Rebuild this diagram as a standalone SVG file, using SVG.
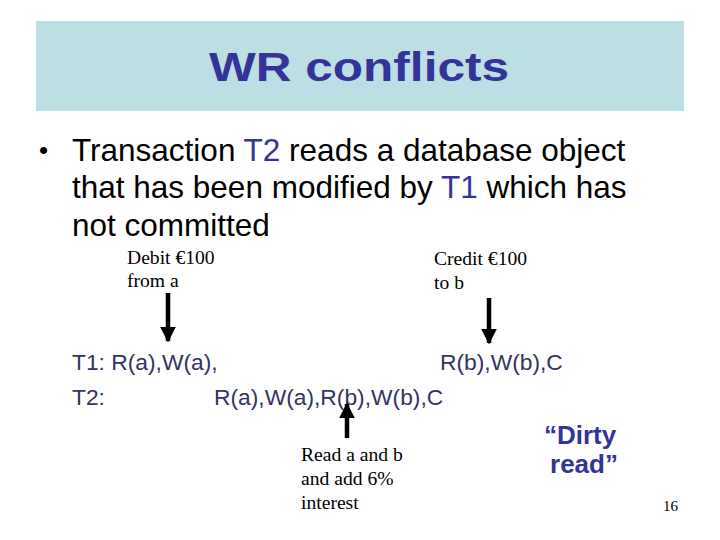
<svg xmlns="http://www.w3.org/2000/svg" width="720" height="540" viewBox="0 0 720 540">
<defs>
<marker id="ah" viewBox="0 0 10 10" refX="9" refY="5" markerWidth="3.5" markerHeight="3.8" orient="auto" markerUnits="strokeWidth"><path d="M0,0 L10,5 L0,10 Z" fill="#000"/></marker>
<style>
.title{font-family:"Liberation Sans",Arial,sans-serif;font-weight:bold;font-size:40px;fill:#333399}
.body{font-family:"Liberation Sans",Arial,sans-serif;font-size:31.5px;fill:#000}
.blue{fill:#333399}
.tx{font-family:"Liberation Sans",Arial,sans-serif;font-size:22.8px;fill:#333366}
.note{font-family:"Liberation Serif","Times New Roman",serif;font-size:19.6px;fill:#000}
.dirty{font-family:"Liberation Sans",Arial,sans-serif;font-weight:bold;font-size:26px;fill:#333399}
.arr{stroke:#000;stroke-width:4.5;fill:none}
</style>
</defs>
<rect width="720" height="540" fill="#fff"/>
<g id="title">
<rect x="36" y="21" width="648" height="90" fill="#BBDFE3"/>
<text class="title" x="359" y="81" text-anchor="middle" textLength="300" lengthAdjust="spacingAndGlyphs">WR conflicts</text>
</g>
<g id="bullet">
<text class="body" x="39" y="159" style="font-size:26px">•</text>
<text class="body" x="72" y="161">Transaction <tspan class="blue">T2</tspan> reads a database object</text>
<text class="body" x="72" y="198">that has been modified by <tspan class="blue">T1</tspan> which has</text>
<text class="body" x="72" y="236">not committed</text>
</g>
<g id="debit">
<text class="note" x="127" y="264">Debit €100</text>
<text class="note" x="127" y="287">from a</text>
</g>
<g id="credit">
<text class="note" x="434" y="265">Credit €100</text>
<text class="note" x="434" y="289">to b</text>
</g>
<g id="t1">
<text class="tx" x="72" y="370">T1: R(a),W(a),</text>
<text class="tx" x="440" y="370">R(b),W(b),C</text>
</g>
<g id="t2">
<text class="tx" x="72" y="405">T2:</text>
<text class="tx" x="214" y="405">R(a),W(a),R(b),W(b),C</text>
</g>
<g id="read-note">
<text class="note" x="301" y="461">Read a and b</text>
<text class="note" x="301" y="485">and add 6%</text>
<text class="note" x="301" y="509">interest</text>
</g>
<g id="dirty">
<text class="dirty" x="580" y="444" text-anchor="middle">“Dirty</text>
<text class="dirty" x="584" y="473" text-anchor="middle">read”</text>
</g>
<g id="page">
<text x="663" y="511" style="font-family:'Liberation Serif','Times New Roman',serif;font-size:15px;fill:#000">16</text>
</g>
<g id="connectors">
<line class="arr" x1="168" y1="293" x2="168" y2="341" marker-end="url(#ah)"/>
<line class="arr" x1="489" y1="298" x2="489" y2="343" marker-end="url(#ah)"/>
<line class="arr" x1="347" y1="438" x2="347" y2="404" marker-end="url(#ah)"/>
</g>
</svg>
